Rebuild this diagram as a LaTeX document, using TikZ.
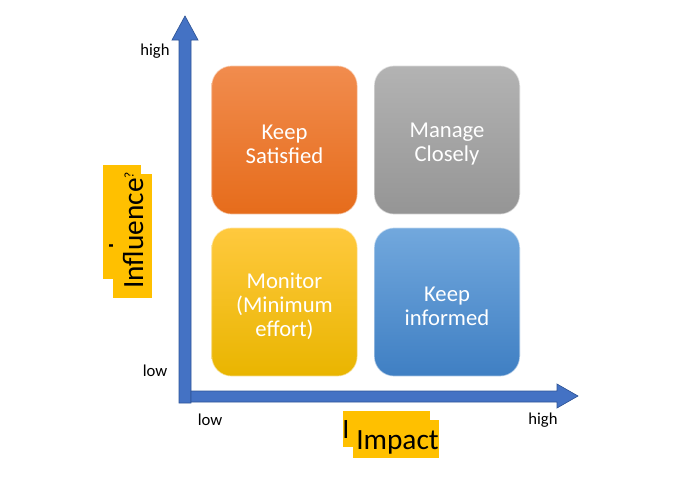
\documentclass[tikz,border=0pt]{standalone}
\usepackage{fontspec}
\setmainfont{Carlito}
\usetikzlibrary{calc}
\definecolor{axisblue}{HTML}{4472C4}
\definecolor{axisedge}{HTML}{2F5597}
\definecolor{hlyellow}{HTML}{FFC000}
\definecolor{orangeTop}{HTML}{F18C4E}
\definecolor{orangeBot}{HTML}{E66C1B}
\definecolor{greyTop}{HTML}{B3B3B3}
\definecolor{greyBot}{HTML}{959595}
\definecolor{goldTop}{HTML}{FFC93E}
\definecolor{goldBot}{HTML}{E9B500}
\definecolor{blueTop}{HTML}{72A8DD}
\definecolor{blueBot}{HTML}{3F7FC3}
\begin{document}
\begin{tikzpicture}[x=0.75pt,y=-0.75pt,
  quad/.style n args={2}{rounded corners=15pt, minimum width=109.5pt,
    minimum height=111.5pt, top color=#1, bottom color=#2, draw=white,
    draw opacity=0.55, line width=1pt},
  quadtext/.style={text=white, align=center, inner sep=0pt,
    font=\fontsize{17}{18}\selectfont},
  axisarrow/.style={fill=axisblue, draw=axisedge, line width=0.5pt, line join=miter},
  ticklbl/.style={font=\fontsize{12.5}{14}\selectfont, inner sep=0pt},
  hl/.style={fill=hlyellow},
  axisname/.style={font=\fontsize{22}{24}\selectfont, inner sep=0pt},
  stray/.style={font=\fontsize{21}{23}\selectfont, inner sep=0pt}]
\useasboundingbox (0,0) rectangle (683,496);
\fill[white] (0,0) rectangle (683,496);

% axes drawn as block arrows
\draw[axisarrow] (179,403) -- (179,40) -- (172,40) -- (185,16) -- (198,40)
  -- (191,40) -- (191,403) -- cycle;
\draw[axisarrow] (191,391) -- (557,391) -- (557,384) -- (578,396) -- (557,408)
  -- (557,402) -- (191,402) -- cycle;

% the four quadrants
\node[quad={orangeTop}{orangeBot}] (satisfied) at (284.5,140) {};
\node[quad={greyTop}{greyBot}] (closely) at (447,140) {};
\node[quad={goldTop}{goldBot}] (monitor) at (284.5,302) {};
\node[quad={blueTop}{blueBot}] (informed) at (447,302) {};
\node[quadtext] (satisfiedtxt) at ($(satisfied.center)+(0,4)$) {Keep\\Satisfied};
\node[quadtext] (closelytxt) at ($(closely.center)+(0,4)$) {Manage\\Closely};
\node[quadtext] (monitortxt) at ($(monitor.center)+(0,4)$) {Monitor\\(Minimum\\effort)};
\node[quadtext] (informedtxt) at ($(informed.center)+(0,4)$) {Keep\\informed};

% tick labels
\node[ticklbl] (yhigh) at (155,51) {high};
\node[ticklbl] (ylow) at (155,371) {low};
\node[ticklbl] (xlow) at (210,420) {low};
\node[ticklbl] (xhigh) at (543,420) {high};

% vertical axis name on highlighted boxes
\fill[hl] (103,165) rectangle (141,279);
\node[stray, rotate=90, anchor=base] (inflI) at (127,246) {I};
\fill[hl] (113,174) rectangle (152,298);
\node[axisname, rotate=90, anchor=base west] (influence) at (143,289)
  {Influence\raisebox{7pt}{\fontsize{10}{10}\selectfont ?}};

% horizontal axis name on highlighted boxes
\fill[hl] (343,411) rectangle (430,447);
\node[stray, anchor=base] (impI) at (346,438) {I};
\fill[hl] (353,420) rectangle (439,458);
\node[axisname, anchor=base west] (impact) at (356,449) {Impact};
\end{tikzpicture}
\end{document}
